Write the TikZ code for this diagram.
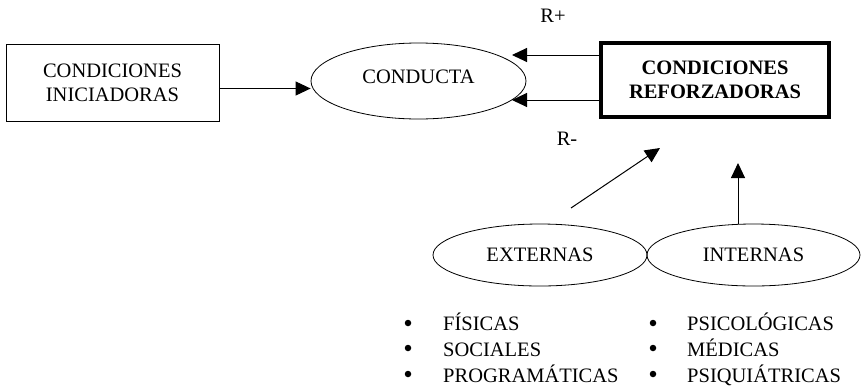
\documentclass[tikz,border=0pt]{standalone}
\usepackage{fontspec}
\setmainfont{Liberation Serif}
\usetikzlibrary{arrows.meta, shapes, calc, positioning}
\tikzset{
	every node/.style={
		font=\fontsize{20.5}{24}\selectfont
	},
	caja/.style={
		shape=rectangle,
		minimum width=213pt,
		minimum height=77pt,
		align=center,
		line width=1pt,
		draw
	},
	cajafuerte/.style={
		shape=rectangle,
		minimum width=228pt,
		minimum height=74pt,
		align=center,
		line width=4pt,
		font=\fontsize{20.5}{24}\selectfont\bfseries,
		draw
	},
	elipse/.style={
		shape=ellipse,
		minimum width=214pt,
		minimum height=62pt,
		inner sep=0pt,
		line width=0.8pt,
		draw
	},
	item/.style={
		anchor=base west,
		inner sep=0pt
	},
	punto/.style={
		shape=circle,
		fill=black,
		minimum size=6.5pt,
		inner sep=0pt
	},
	flecha/.style={-{Triangle[length=15pt,width=14pt]}, line width=1pt}
}

\begin{document}
\begin{tikzpicture}[x=1pt, y=-1pt]
\useasboundingbox (0,0) rectangle (866,386);

\node [caja] (ini) at (112.5,82.5) {CONDICIONES\\INICIADORAS};
\node [elipse, minimum width=215pt, minimum height=76pt] (conducta) at (418.5,81) {\raisebox{9pt}{CONDUCTA}};
\node [cajafuerte] (refor) at (715,80) {CONDICIONES\\REFORZADORAS};

\node [anchor=base, inner sep=0pt] (rmas) at (553,22) {R+};
\node [anchor=base, inner sep=0pt] (rmenos) at (567,145) {R-};

\node [elipse] (ext) at (540,255) {EXTERNAS};
\node [elipse, minimum width=213pt] (int) at (753.5,255) {INTERNAS};

% flechas
\coordinate (puntamas) at (512,55);
\coordinate (puntamenos) at (512,100);
\coordinate (diagini) at (571,208);
\coordinate (diagfin) at (660,148);
\coordinate (vertfin) at (738,163);

\draw [flecha] ([yshift=-6pt]ini.east) -- ([yshift=-6pt]ini.east -| conducta.west);
\draw [flecha] (refor.west |- puntamas) -- (puntamas);
\draw [flecha] (refor.west |- puntamenos) -- (puntamenos);
\draw [flecha] (diagini) -- (diagfin);
\draw [flecha] ([xshift=-15.5pt]int.north) -- (vertfin);

% listas
\node [punto] (b1) at (408,323) {};
\node [punto] (b2) at (408,348) {};
\node [punto] (b3) at (408,374) {};
\node [item] (fisicas) at (443,330) {FÍSICAS};
\node [item] (sociales) at (443,356) {SOCIALES};
\node [item] (program) at (443,382) {PROGRAMÁTICAS};

\node [punto] (b4) at (653,323) {};
\node [punto] (b5) at (653,348) {};
\node [punto] (b6) at (653,374) {};
\node [item] (psico) at (687,330) {PSICOLÓGICAS};
\node [item] (medicas) at (687,356) {MÉDICAS};
\node [item] (psiqui) at (687,382) {PSIQUIÁTRICAS};

\end{tikzpicture}
\end{document}
